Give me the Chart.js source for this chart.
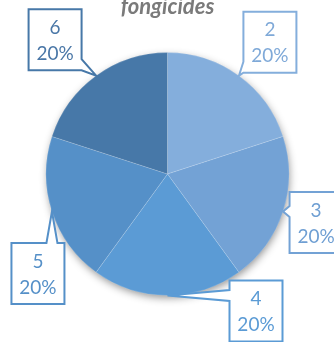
<!DOCTYPE html>
<html>
<head>
<meta charset="utf-8">
<script src="https://cdn.jsdelivr.net/npm/chart.js@4.4.1/dist/chart.umd.min.js"></script>
<style>
  html, body { margin: 0; padding: 0; background: #fff; }
  #wrap { width: 334px; height: 342px; }
</style>
</head>
<body>
<div id="wrap"><canvas id="pie" width="334" height="342"></canvas></div>
<script>
// données du graphique
const titre = 'fongicides';
const categories = ['2', '3', '4', '5', '6'];
const valeurs = [1, 1, 1, 1, 1];
const couleurs = ['#84AEDC', '#73A2D5', '#5B9BD5', '#5590C8', '#4778A8'];
const couleursTexte = ['#7FA9D8', '#6F9FD3', '#5B9BD5', '#5590C8', '#4A77A7'];

// ombre sous le camembert (cercle blanc avec ombre dessiné avant les parts)
const ombrePlugin = {
  id: 'ombre',
  beforeDatasetsDraw(chart) {
    const arc = chart.getDatasetMeta(0).data[0];
    if (!arc) return;
    const p = arc.getProps(['x', 'y', 'outerRadius'], true);
    const ctx = chart.ctx;
    ctx.save();
    ctx.shadowColor = 'rgba(0,0,0,0.45)';
    ctx.shadowBlur = 9;
    ctx.shadowOffsetX = 1;
    ctx.shadowOffsetY = 3;
    ctx.fillStyle = '#ffffff';
    ctx.beginPath();
    ctx.arc(p.x, p.y, p.outerRadius - 1, 0, Math.PI * 2);
    ctx.fill();
    ctx.restore();
  }
};

// étiquettes en forme de bulle
const bullesPlugin = {
  id: 'bulles',
  afterDatasetsDraw(chart, args, opts) {
    const ctx = chart.ctx;
    const meta = chart.getDatasetMeta(0);
    const total = valeurs.reduce((a, b) => a + b, 0);
    meta.data.forEach((arc, i) => {
      const p = arc.getProps(['x', 'y', 'startAngle', 'endAngle', 'outerRadius'], true);
      const mid = (p.startAngle + p.endAngle) / 2;
      const ax = p.x + Math.cos(mid) * p.outerRadius;
      const ay = p.y + Math.sin(mid) * p.outerRadius;
      const off = opts.decalages[i];
      const w = opts.largeur, h = opts.hauteur, half = opts.pointe / 2;
      const cx = ax + off[0], cy = ay + off[1];
      const l = cx - w / 2, t = cy - h / 2, r = cx + w / 2, b = cy + h / 2;
      const cote = opts.cotes[i];
      const clamp = (v, a, z) => Math.max(a, Math.min(z, v));

      ctx.save();
      ctx.beginPath();
      ctx.moveTo(l, t);
      if (cote === 'top') {
        const bx = clamp(ax, l + half, r - half);
        ctx.lineTo(bx - half, t); ctx.lineTo(ax, ay); ctx.lineTo(bx + half, t);
      }
      ctx.lineTo(r, t);
      if (cote === 'right') {
        const by = clamp(ay, t + half, b - half);
        ctx.lineTo(r, by - half); ctx.lineTo(ax, ay); ctx.lineTo(r, by + half);
      }
      ctx.lineTo(r, b);
      if (cote === 'bottom') {
        const bx = clamp(ax, l + half, r - half);
        ctx.lineTo(bx + half, b); ctx.lineTo(ax, ay); ctx.lineTo(bx - half, b);
      }
      ctx.lineTo(l, b);
      if (cote === 'left') {
        const by = clamp(ay, t + half, b - half);
        ctx.lineTo(l, by + half); ctx.lineTo(ax, ay); ctx.lineTo(l, by - half);
      }
      ctx.closePath();
      ctx.fillStyle = '#ffffff';
      ctx.fill();
      ctx.lineWidth = 2;
      ctx.strokeStyle = couleurs[i];
      ctx.stroke();

      // texte : catégorie + pourcentage
      ctx.fillStyle = couleursTexte[i];
      ctx.font = '19px Lato, "Open Sans", sans-serif';
      ctx.textAlign = 'center';
      ctx.textBaseline = 'middle';
      const pct = Math.round(valeurs[i] / total * 100) + '%';
      ctx.fillText(categories[i], cx, cy - 12);
      ctx.fillText(pct, cx, cy + 14);
      ctx.restore();
    });
  }
};

const ctx = document.getElementById('pie').getContext('2d');
const chart = new Chart(ctx, {
  type: 'pie',
  data: {
    labels: categories,
    datasets: [{
      data: valeurs,
      backgroundColor: couleurs,
      borderColor: 'rgba(255,255,255,0.15)',
      borderWidth: 1
    }]
  },
  options: {
    responsive: false,
    devicePixelRatio: 1,
    animation: false,
    layout: {
      padding: { top: 0, bottom: 46, left: 45, right: 44 }
    },
    plugins: {
      legend: { display: false },
      tooltip: { enabled: false },
      title: {
        display: true,
        text: titre,
        color: '#7A7A7A',
        font: { family: 'Lato, "Open Sans", sans-serif', size: 22, weight: 'bold', style: 'italic', lineHeight: 0.6 },
        padding: { top: 0, bottom: 38.8 }
      },
      bulles: {
        largeur: 53,
        hauteur: 61,
        pointe: 11,
        decalages: [[31, -33.5], [33, 11], [88.5, 15.5], [-14, 62], [-41, -36]],
        cotes: ['left', 'left', 'left', 'top', 'right']
      }
    }
  },
  plugins: [ombrePlugin, bullesPlugin]
});
</script>
</body>
</html>
